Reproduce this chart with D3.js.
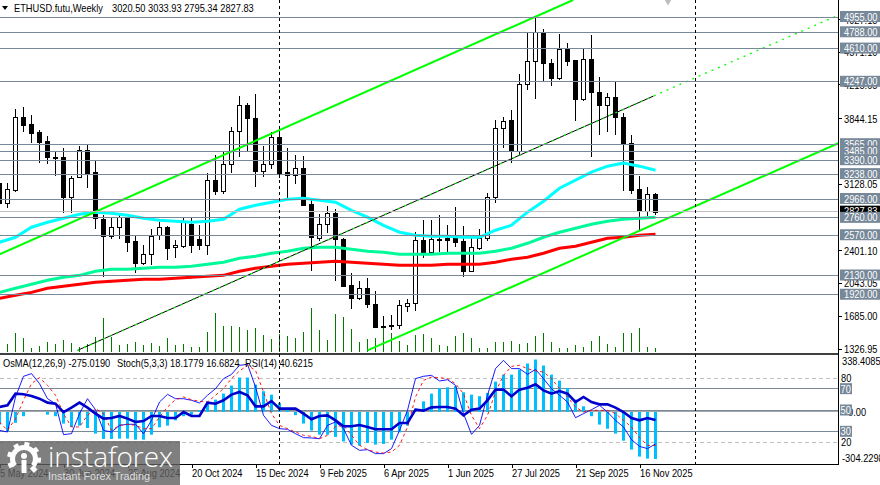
<!DOCTYPE html>
<html>
<head>
<meta charset="utf-8">
<script src="https://cdn.jsdelivr.net/npm/d3@7"></script>
<style>
html,body{margin:0;padding:0;background:#fff;overflow:hidden}
svg{display:block}
text{font-family:"Liberation Sans",Arial,sans-serif;font-size:10.2px;fill:#000}
</style>
</head>
<body>
<svg width="880" height="485"></svg>
<script>
// weekly bars, first bar is 5 May 2024
const opens = [3139,2915,3068,3861,3784,3697,3598,3423,3423,2986,3205,3500,3259,2745,2559,2658,2756,2504,2264,2362,2570,2658,2439,2450,2690,2526,2461,3172,3051,3347,3708,3992,3850,3270,3347,3642,3259,3226,3303,2909,2537,2690,2811,2526,2023,1881,1990,1815,1575,1575,1585,1793,1826,2515,2384,2515,2537,2537,2504,2176,2428,2537,2986,3741,3828,3489,4222,4474,4780,4452,4288,4605,4485,4058,4496,4134,3992,4080,3861,3577,3073,2833,3020.5];
const highs = [3172,3139,3949,3970,3883,3719,3653,3478,3522,3216,3544,3555,3380,2789,2767,2811,2767,2559,2461,2636,2712,2669,2515,2767,2767,2679,3248,3445,3489,3752,4091,4014,4113,3544,3697,3719,3522,3445,3434,2953,2800,2887,2854,2537,2154,2067,2100,1957,1684,1695,1859,1870,2603,2734,2734,2789,2679,2876,2669,2570,2636,3030,3828,3861,3938,4331,4780,4944,4824,4496,4769,4671,4490,4605,4758,4299,4124,4255,3905,3664,3216,3095,3033.93];
const lows = [2898,2865,3040,3697,3577,3358,3347,3216,2811,2811,3194,3084,2636,2111,2526,2526,2384,2154,2242,2242,2515,2297,2318,2428,2373,2406,2351,3008,3019,3248,3423,3489,3095,3205,3292,3194,2975,3128,2887,2176,2504,2592,2067,2001,1760,1859,1771,1553,1553,1531,1542,1728,1739,2318,2373,2384,2384,2439,2111,2165,2406,2504,2920,3522,3358,3445,4156,4058,4255,4200,4266,4419,3817,4036,3423,3664,3697,3664,3051,3019,2614,2778,2795.34];
const closes = [2920,3073,3861,3773,3686,3587,3423,3412,2986,3194,3500,3248,2756,2559,2658,2767,2493,2264,2362,2559,2658,2428,2461,2712,2461,2461,3172,3051,3347,3708,3992,3850,3270,3347,3642,3248,3226,3303,2898,2548,2690,2811,2526,2012,1881,1990,1815,1564,1564,1585,1804,1826,2515,2384,2526,2526,2520,2493,2176,2439,2537,2986,3741,3817,3489,4222,4474,4791,4452,4288,4605,4474,4058,4496,4134,3992,4080,3861,3566,3062,2833,3019,2827.83];
const volumes = [0,5,16,11,1,3,7,5,9,6,2,5,12,31,12,4,5,7,4,6,3,11,4,5,2,2,17,36,23,23,22,19,21,14,10,15,13,11,17,41,19,9,35,32,20,7,10,11,22,16,8,4,14,15,11,4,3,13,16,11,1,1,7,7,8,5,6,13,16,7,1,1,4,2,8,13,5,2,16,16,21,2,1];

// moving averages, read every second bar
const maBars = d3.range(0, 83, 2);
const maCyan = [2493,2548,2658,2712,2756,2800,2822,2811,2789,2756,2734,2723,2712,2723,2745,2854,2898,2931,2964,2975,2953,2931,2843,2767,2679,2603,2570,2559,2559,2548,2548,2625,2679,2822,2942,3084,3172,3259,3325,3358,3325,3281];
const maGreen = [1946,1990,2034,2078,2111,2132,2176,2198,2198,2209,2220,2220,2231,2253,2275,2318,2340,2373,2395,2428,2439,2439,2417,2395,2384,2362,2362,2362,2373,2373,2373,2395,2428,2482,2548,2603,2647,2690,2723,2745,2756,2767];
const maRed = [1881,1914,1946,1990,2012,2034,2056,2067,2078,2089,2089,2100,2111,2121,2132,2176,2209,2231,2253,2264,2275,2286,2275,2264,2253,2242,2242,2242,2253,2253,2253,2275,2307,2329,2373,2428,2450,2493,2537,2548,2570,2581];

const osma = [-74,-113,-64,-25,0,0,-16,-25,-68,-88,-80,-94,-127,-158,-158,-156,-156,-162,-162,-133,-90,-80,-49,-25,-16,8,53,72,107,154,201,201,160,121,101,53,18,-19,-68,-109,-133,-133,-146,-172,-191,-197,-181,-191,-187,-162,-119,-80,19,62,107,140,144,150,115,101,92,111,177,218,218,248,283,306,271,218,183,140,72,33,-25,-74,-98,-127,-168,-220,-261,-273,-275.019];
const rsi = [52.8,54.4,65.3,64.7,63.1,60.6,56.9,55.9,48.1,52.2,56.9,52.2,46.6,41.9,42.5,44.4,41.9,38.8,39.7,44.4,44.4,42.5,42.5,48.1,44.4,44.4,56.9,55.9,59.1,64.4,66.9,63.8,53.4,53.4,58.4,51.3,51.3,51.3,46.6,41.3,44.4,45,40.3,34.7,34.7,35.9,34.1,31.9,31.9,31.9,37.8,37.8,50.3,49.4,52.5,52.8,52.8,51.3,45,50.3,51.3,59.1,69.1,69.1,62.8,69.1,70.9,74.1,68.4,65.3,67.8,65.3,57.5,62.2,57.5,55.3,55.3,52.2,48.1,42.5,40.3,42.5,40.62];
const stochMain = [30.9,29.4,62.2,81.6,84.1,74.7,60.6,55.9,26.9,27.8,46.6,60.6,50.3,30.9,29.4,35.6,36.6,36.6,27.8,40.3,57.5,64.7,60.6,60.6,59.1,56.6,63.8,70,79.4,83.4,91.9,92.8,71.6,45,35.6,32.5,31.9,27.8,24.1,23.8,23.1,35.6,38.8,32.5,16.9,12.2,12.8,9.1,9.1,13.8,30.9,49.7,79.4,81.6,82.5,77.2,78.4,73.1,46.6,27.2,35.6,63.8,88.8,96.6,88.8,88.8,83.4,88.1,79.4,70,63.8,57.5,42.8,46.6,50.3,54.4,48.1,40.3,34.1,22.2,15.9,13.8,18.18];
const stochSignal = [38.8,30.9,41.9,59.1,74.7,80.3,73.1,63.8,46.6,34.1,34.1,45,51.3,46.6,30.9,35.6,36.6,35.6,32.5,32.5,43.4,52.8,59.7,62.2,59.7,58.1,57.5,63.8,70,79.4,86.6,91.9,87.2,66.9,46.6,35.6,32.5,29.4,26.3,25.3,23.1,26.3,34.7,35.6,26.3,16.9,12.8,10.6,9.7,10.6,16.9,34.1,62.2,77.8,80.9,80.3,79.4,74.7,65.3,45,32.5,45,66.9,82.5,90.9,91.9,88.8,86.6,85.6,79.4,70,62.2,52.8,48.1,49.7,49.7,49.7,46.6,40.3,34.1,24.1,16.9,16.68];

// channel lines as bar index / price pairs
const upperBars = [0, 71.7], upperPrices = [2362, 5141];
const lowerBars = [46, 104.9], lowerPrices = [1312, 3577];
const midBars = [9.75, 81.75, 104.9], midPrices = [1312, 4091, 4977];

const priceLevels = [4955, 4788, 4610, 4247, 3565, 3485, 3390, 3238, 2966, 2760, 2570, 2130, 1920];
const priceTicks = ['4927.15', '4571.10', '4215.05', '3844.15', '3128.05', '2401.10', '2043.05', '1685.00', '1326.95'];
const lastPrice = 2827.83;
const rsiLevels = [70, 50, 30];
const dashLevels = [80, 20];
const dateBars = [0, 8, 16, 24, 32, 40, 48, 56, 64, 72, 80];
const dateLabels = ['5 May 2024', '30 Jun 2024', '25 Aug 2024', '20 Oct 2024', '15 Dec 2024', '9 Feb 2025', '6 Apr 2025', '1 Jun 2025', '27 Jul 2025', '21 Sep 2025', '16 Nov 2025'];
const separatorBars = [35, 87];

const svg = d3.select('svg');
const axisX = 838, mainBottom = 352, subTop = 354, subBottom = 464;
const slate = '#778899';

const x = d3.scaleLinear().domain([0, 82]).range([-0.5, 655.5]);
const y = d3.scaleLinear().domain([4955, 1326.95]).range([17, 349]);
const yVol = d3.scaleLinear().domain([0, 41]).range([349, 308]);
const yOsc = d3.scaleLinear().domain([80, 20]).range([378, 442]);
const yOsma = d3.scaleLinear().domain([338.4085, -304.2298]).range([subTop, subBottom]);
const crisp = v => Math.round(v - 0.5) + 0.5;

svg.append('defs').append('clipPath').attr('id', 'main')
  .append('rect').attr('width', axisX).attr('height', mainBottom);
svg.select('defs').append('clipPath').attr('id', 'sub')
  .append('rect').attr('y', subTop).attr('width', axisX).attr('height', subBottom - subTop);

// main pane
const main = svg.append('g').attr('clip-path', 'url(#main)');

main.selectAll('.vol').data(volumes).join('line')
  .attr('x1', (d, i) => x(i)).attr('x2', (d, i) => x(i))
  .attr('y1', d => yVol(d)).attr('y2', mainBottom)
  .attr('stroke', '#007a00').attr('shape-rendering', 'crispEdges');

const bars = main.selectAll('.bar').data(opens).join('g');
bars.append('line')
  .attr('x1', (d, i) => x(i)).attr('x2', (d, i) => x(i))
  .attr('y1', (d, i) => y(highs[i])).attr('y2', (d, i) => y(lows[i]))
  .attr('stroke', '#000').attr('shape-rendering', 'crispEdges');
bars.append('rect')
  .attr('x', (d, i) => x(i) - 2).attr('width', 4)
  .attr('y', (d, i) => crisp(y(Math.max(d, closes[i]))))
  .attr('height', (d, i) => Math.max(1, Math.round(Math.abs(y(d) - y(closes[i])))))
  .attr('fill', (d, i) => closes[i] < d ? '#000' : '#fff')
  .attr('stroke', '#000').attr('shape-rendering', 'crispEdges');

const maLine = d3.line().x((d, i) => x(maBars[i])).y(d => y(d));
[[maCyan, '#00ffff'], [maGreen, '#00fa9a'], [maRed, '#ff0000']].forEach(([vals, col]) => {
  main.append('path').attr('d', maLine(vals)).attr('fill', 'none')
    .attr('stroke', col).attr('stroke-width', 3);
});

const priceLine = (xs, ps) => d3.line().x((d, i) => x(xs[i])).y(d => y(d))(ps);
main.append('path').attr('d', priceLine(upperBars, upperPrices)).attr('stroke', '#00ff00').attr('stroke-width', 2).attr('fill', 'none');
main.append('path').attr('d', priceLine(lowerBars, lowerPrices)).attr('stroke', '#00ff00').attr('stroke-width', 2).attr('fill', 'none');
main.append('path').attr('d', priceLine(midBars.slice(0, 2), midPrices.slice(0, 2))).attr('stroke', '#000').attr('fill', 'none');
main.append('path').attr('d', priceLine(midBars, midPrices)).attr('stroke', '#00ff00').attr('stroke-width', 1.3).attr('stroke-dasharray', '2,5').attr('fill', 'none');

main.selectAll('.level').data(priceLevels).join('line')
  .attr('x1', 0).attr('x2', axisX)
  .attr('y1', d => crisp(y(d))).attr('y2', d => crisp(y(d)))
  .attr('stroke', slate).attr('shape-rendering', 'crispEdges');
main.append('line').attr('x2', axisX)
  .attr('y1', crisp(y(lastPrice))).attr('y2', crisp(y(lastPrice)))
  .attr('stroke', '#c0c0c0').attr('shape-rendering', 'crispEdges');

main.append('path').attr('d', d3.symbol(d3.symbolDiamond, 50)())
  .attr('transform', `translate(${x(83.56)},${y(5152)})`).attr('fill', '#bdbdbd');

// oscillator pane
const sub = svg.append('g').attr('clip-path', 'url(#sub)');

sub.selectAll('.dash').data(dashLevels).join('line')
  .attr('x2', axisX).attr('y1', d => crisp(yOsc(d))).attr('y2', d => crisp(yOsc(d)))
  .attr('stroke', '#c0c0c0').attr('stroke-dasharray', '4,3').attr('shape-rendering', 'crispEdges');
sub.selectAll('.rsiLevel').data(rsiLevels).join('line')
  .attr('x2', axisX).attr('y1', d => crisp(yOsc(d))).attr('y2', d => crisp(yOsc(d)))
  .attr('stroke', slate).attr('shape-rendering', 'crispEdges');
sub.append('line').attr('x2', axisX).attr('y1', crisp(yOsma(0))).attr('y2', crisp(yOsma(0)))
  .attr('stroke', '#a8a8a8').attr('shape-rendering', 'crispEdges');

sub.selectAll('.osma').data(osma).join('rect')
  .attr('x', (d, i) => x(i) - 1.5).attr('width', 3)
  .attr('y', d => Math.min(yOsma(d), yOsma(0)))
  .attr('height', d => Math.abs(yOsma(d) - yOsma(0)))
  .attr('fill', '#00bfff');

const oscLine = d3.line().x((d, i) => x(i)).y(d => yOsc(d));
sub.append('path').attr('d', oscLine(stochMain)).attr('fill', 'none').attr('stroke', '#0000ff').attr('stroke-width', .9);
sub.append('path').attr('d', oscLine(stochSignal)).attr('fill', 'none').attr('stroke', '#ff0000').attr('stroke-width', .9).attr('stroke-dasharray', '3,3');
sub.append('path').attr('d', oscLine(rsi)).attr('fill', 'none').attr('stroke', '#0000cd').attr('stroke-width', 2.6);

// frame and separators
svg.selectAll('.sep').data(separatorBars).join('line')
  .attr('x1', d => x(d)).attr('x2', d => x(d)).attr('y1', 0).attr('y2', subBottom)
  .attr('stroke', '#000').attr('stroke-dasharray', '3,3').attr('shape-rendering', 'crispEdges');
svg.append('line').attr('x2', axisX).attr('y1', subTop).attr('y2', subTop).attr('stroke', '#000').attr('stroke-width', 1.5);
svg.append('line').attr('x2', axisX).attr('y1', subBottom + .5).attr('y2', subBottom + .5).attr('stroke', '#000');
svg.append('line').attr('x1', axisX + .5).attr('x2', axisX + .5).attr('y1', 0).attr('y2', subBottom + 1).attr('stroke', '#000');

// date axis
const dateAxis = d3.axisBottom(x).tickValues(dateBars).tickSize(4)
  .tickFormat((d, i) => dateLabels[i]);
const gDate = svg.append('g').attr('transform', `translate(0,${subBottom})`).call(dateAxis);
gDate.select('.domain').remove();
gDate.selectAll('text').attr('text-anchor', 'start').attr('x', 0).attr('y', 6).attr('dy', '.71em').style('font-size', '10.2px').style('font-family', '"Liberation Sans"');
gDate.selectAll('line').attr('shape-rendering', 'crispEdges');

// price axis
const tickG = svg.append('g');
tickG.selectAll('line').data(priceTicks).join('line')
  .attr('x1', axisX).attr('x2', axisX + 4)
  .attr('y1', d => crisp(y(+d))).attr('y2', d => crisp(y(+d))).attr('stroke', '#000');
tickG.selectAll('text').data(priceTicks).join('text')
  .attr('x', 844).attr('y', d => y(+d) + 4).text(d => d);

const tag = (val, py, fill, txtFill) => {
  svg.append('rect').attr('x', 840).attr('y', py - 5.5).attr('width', 40).attr('height', 11).attr('fill', fill);
  svg.append('text').attr('x', 844).attr('y', py + 4).style('fill', txtFill).text(val);
};
// draw order keeps the lower tag on top where they overlap
priceLevels.filter(d => d > lastPrice).forEach(d => tag(d.toFixed(2), y(d) - 0.5, slate, '#fff'));
tag(lastPrice.toFixed(2), y(lastPrice) - 0.5, '#000', '#fff');
priceLevels.filter(d => d < lastPrice).forEach(d => tag(d.toFixed(2), y(d) - 0.5, slate, '#fff'));

// oscillator axis labels
svg.append('text').attr('x', 842).attr('y', yOsma(338.4085) + 11).text('338.4085');
svg.append('text').attr('x', 842).attr('y', yOsma(-304.2298) - 2).text('-304.2298');
svg.append('text').attr('x', 848).attr('y', yOsma(0) + 4).text('0.00');
dashLevels.forEach(d => svg.append('text').attr('x', 841).attr('y', yOsc(d) + 4).text(d));
rsiLevels.forEach(d => {
  svg.append('rect').attr('x', 840).attr('y', yOsc(d) - 5.5).attr('width', 12).attr('height', 11).attr('fill', slate);
  svg.append('text').attr('x', 840.5).attr('y', yOsc(d) + 4).style('fill', '#fff').text(d);
});

// header
svg.append('path').attr('d', 'M2,6 L8,6 L5,10 Z').attr('fill', '#000');
svg.append('text').attr('x', 14).attr('y', 12).text('ETHUSD.futu,Weekly');
svg.append('text').attr('x', 112).attr('y', 12).text('3020.50 3033.93 2795.34 2827.83');
svg.append('text').attr('x', 3).attr('y', 367).text('OsMA(12,26,9) -275.0190');
svg.append('text').attr('x', 117).attr('y', 367).text('Stoch(5,3,3) 18.1779 16.6824');
svg.append('text').attr('x', 245).attr('y', 367).text('RSI(14) 40.6215');

// squeeze the labels a bit, the originals are tall and narrow
svg.selectAll('text').each(function() {
  const len = this.getComputedTextLength();
  d3.select(this).attr('textLength', len * 0.91).attr('lengthAdjust', 'spacingAndGlyphs');
});

// watermark
const wm = svg.append('g');
wm.append('rect').attr('y', 441).attr('width', 180).attr('height', 44).attr('fill', '#5f5f5f').attr('opacity', .8);
const gear = wm.append('g').attr('transform', 'translate(24,459)').attr('fill', '#fff');
gear.append('path').attr('d', d3.arc()({innerRadius: 9, outerRadius: 14, startAngle: -2.2, endAngle: 2.2}));
d3.range(-2, 2.5, 0.73).forEach(a => {
  gear.append('rect').attr('x', -2.5).attr('y', -17).attr('width', 5).attr('height', 6)
    .attr('transform', `rotate(${a * 180 / Math.PI})`);
});
gear.append('circle').attr('cy', -3).attr('r', 3);
gear.append('rect').attr('x', -2.5).attr('y', 1).attr('width', 5).attr('height', 13);
wm.append('text').attr('x', 48).attr('y', 467).text('instaforex')
  .style('font-family', '"Open Sans"').style('font-weight', 300).style('font-size', '28px').style('fill', '#fff')
  .attr('textLength', 125).attr('lengthAdjust', 'spacingAndGlyphs');
wm.append('text').attr('x', 48).attr('y', 480).text('Instant Forex Trading')
  .style('font-size', '11px').style('fill', '#ddd')
  .attr('textLength', 102).attr('lengthAdjust', 'spacingAndGlyphs');
</script>
</body>
</html>
